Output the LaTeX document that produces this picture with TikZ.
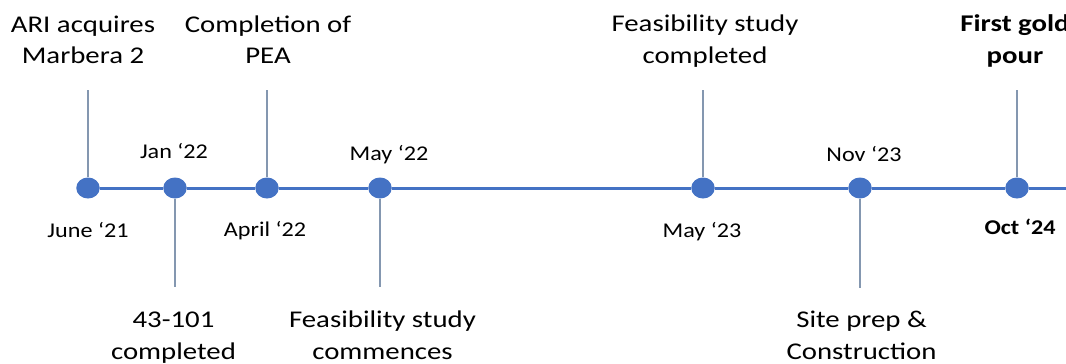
\documentclass[tikz,border=0pt]{standalone}
\usepackage{fontspec}
\setmainfont{Carlito}
\definecolor{dotblue}{HTML}{4472C4}
\definecolor{stemblue}{HTML}{8497B0}
\newcommand\toptxt[1]{\scalebox{1.2}[1]{\fontsize{24}{32}\selectfont\begin{tabular}[t]{@{}c@{}}#1\end{tabular}}}
\newcommand\datetxt[1]{\scalebox{1.15}[1]{\fontsize{21}{25}\selectfont #1}}
\tikzset{
  dot/.style={ellipse, fill=dotblue, minimum width=23.5pt, minimum height=21pt, inner sep=0pt},
  axis/.style={draw=dotblue, line width=3pt},
  stem/.style={draw=stemblue, line width=1.3pt},
  lbl/.style={inner sep=0pt, anchor=base, text=black}
}
\usetikzlibrary{shapes.geometric}
\begin{document}
\begin{tikzpicture}[x=1pt,y=-1pt]
\useasboundingbox[fill=white] (0,0) rectangle (1066,364);
% dots
\node[dot] (d1) at (88,188) {};
\node[dot] (d2) at (175,188) {};
\node[dot] (d3) at (267,188) {};
\node[dot] (d4) at (380,188) {};
\node[dot] (d5) at (703,188) {};
\node[dot] (d6) at (860,188) {};
\node[dot] (d7) at (1017,188) {};
\coordinate (e) at (1070,188);
% stem ends
\coordinate (s1) at (88,90);
\coordinate (s2) at (175,287);
\coordinate (s3) at (267,90);
\coordinate (s4) at (380,287);
\coordinate (s5) at (703,90);
\coordinate (s6) at (860,288);
\coordinate (s7) at (1017,90);
% axis
\draw[axis] (d1) -- (d2) -- (d3) -- (d4) -- (d5) -- (d6) -- (d7) -- (e);
% stems
\foreach \i in {1,...,7} \draw[stem] (d\i) -- (s\i);
% top labels
\node[lbl] (ari) at (83,32) {\toptxt{ARI acquires\\Marbera 2}};
\node[lbl] (pea) at (268,32) {\toptxt{Completion of\\PEA}};
\node[lbl] (fsc) at (705,31) {\toptxt{Feasibility study\\completed}};
\node[lbl] (gold) at (1015,31) {\toptxt{\bfseries First gold\\\bfseries pour}};
% bottom labels
\node[lbl] (ni) at (173.5,327) {\toptxt{43-101\\completed}};
\node[lbl] (fsm) at (382.5,327) {\toptxt{Feasibility study\\commences}};
\node[lbl] (site) at (861.5,327) {\toptxt{Site prep \&\\Construction}};
% dates
\node[lbl] (t1) at (88,237) {\datetxt{June ‘21}};
\node[lbl] (t2) at (174,158) {\datetxt{Jan ‘22}};
\node[lbl] (t3) at (265,236) {\datetxt{April ‘22}};
\node[lbl] (t4) at (389,160) {\datetxt{May ‘22}};
\node[lbl] (t5) at (702,237) {\datetxt{May ‘23}};
\node[lbl] (t6) at (864,161) {\datetxt{Nov ‘23}};
\node[lbl] (t7) at (1020,234) {\datetxt{\bfseries Oct ‘24}};
\end{tikzpicture}
\end{document}
